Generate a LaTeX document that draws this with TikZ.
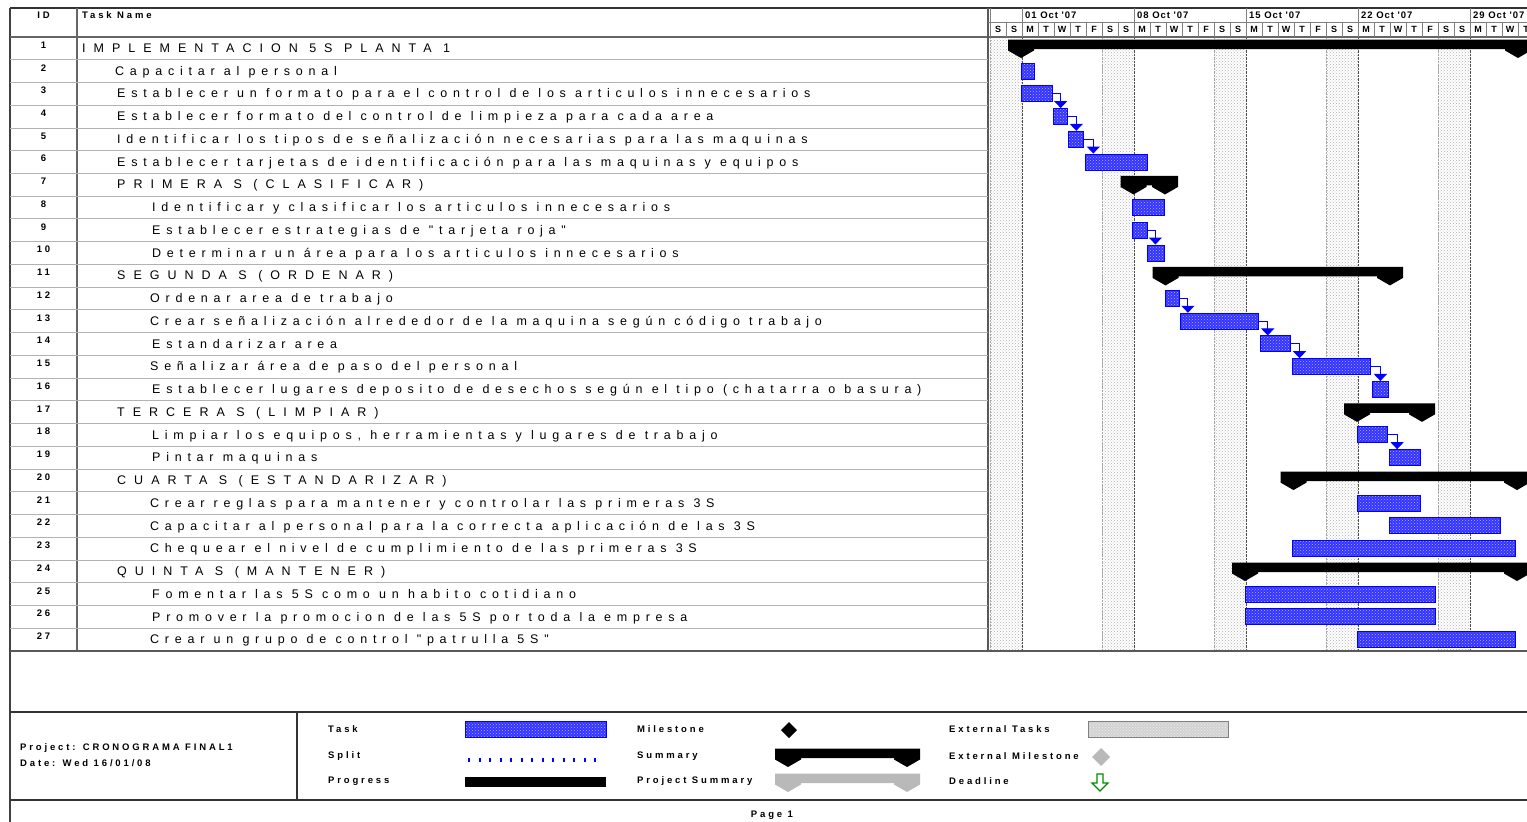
\documentclass[tikz,border=0pt]{standalone}
\usepackage{fontspec}
\setmainfont{Liberation Sans}
\newfontfamily\tkA{Liberation Sans}[LetterSpace=46]
\newfontfamily\tkB{Liberation Sans}[LetterSpace=64]
\newfontfamily\tkC{Liberation Sans}[LetterSpace=30]
\newfontfamily\tkD{Liberation Sans}[LetterSpace=10]
\usetikzlibrary{patterns,arrows.meta}

\newcommand\ganttrow[4]{%
  \pgfmathsetmacro\grt{37+(#1-1)*22.74}%
  \node[idtxt] (id#1) at (43.5,\grt+8) {#1};
  \node[#3] (tn#1) at (#2,\grt+15.5) {#4};
}
\newcommand\gtask[3]{%
  \pgfmathsetmacro\gcy{37+(#1-0.5)*22.74}%
  \node[taskbar, minimum width={(#3)-(#2)}, anchor=west] (t#1) at (#2,\gcy) {};
}
\newcommand\gsumshape[4]{% color, top, start, finish
  \fill[#1] (#3-13,#2+2.5) -- (#4+13,#2+2.5) -- (#4+13,#2+13.5) -- (#4,#2+21)
    -- (#4-13,#2+13.5) -- (#4-13,#2+12) -- (#3+13,#2+12) -- (#3+13,#2+13.5)
    -- (#3,#2+21) -- (#3-13,#2+13.5) -- cycle;
}
\newcommand\gsum[3]{%
  \pgfmathsetmacro\gst{37+(#1-1)*22.74}%
  \gsumshape{black}{\gst}{#2}{#3}%
}

\begin{document}
\begin{tikzpicture}[x=1pt,y=-1pt,
  tasktxt/.style={anchor=base west, inner sep=0, font=\tkA\fontsize{12.5}{14}\selectfont},
  captxt/.style={anchor=base west, inner sep=0, font=\tkB\fontsize{12.5}{14}\selectfont},
  idtxt/.style={inner sep=0, font=\tkC\bfseries\fontsize{9.5}{11}\selectfont},
  hdrtxt/.style={inner sep=0, font=\tkC\bfseries\fontsize{9.5}{11}\selectfont},
  wktxt/.style={inner sep=0, anchor=west, font=\tkD\bfseries\fontsize{9.5}{11}\selectfont},
  daytxt/.style={inner sep=0, font=\tkD\bfseries\fontsize{9}{11}\selectfont},
  lgtxt/.style={anchor=west, inner sep=0, font=\tkC\bfseries\fontsize{9.5}{11}\selectfont},
  taskbar/.style={draw=blue, line width=1pt, preaction={fill=blue!80}, pattern=crosshatch dots,
     pattern color={rgb,255:red,175;green,175;blue,255}, minimum height=16, inner sep=0},
  link/.style={draw=blue, line width=1pt, -{Triangle[width=13pt,length=7pt]}},
  gridline/.style={gray!60, line width=0.9pt}
]
\useasboundingbox (0,0) rectangle (1527,822);
\clip (0,0) rectangle (1527,822);
\fill[white] (0,0) rectangle (1527,822);

% weekend bands
\foreach \a in {990,1102,1214,1326,1438} {
  \fill[pattern=crosshatch dots, pattern color=gray!60] (\a,37) rectangle (\a+32,651);
  \draw[densely dotted, gray!70] (\a,37) -- (\a,651);
  \draw[densely dotted, black!70] (\a+32,37) -- (\a+32,651);
}

% frame and grid
\draw[line width=1.4pt, black!80] (10,8) -- (1527,8);
\draw[line width=1.8pt, black!75] (10,8) -- (10,822);
\draw[line width=1.1pt, gray!80!black] (10,37) -- (1527,37);
\draw[line width=1.1pt, gray!80!black] (77,8) -- (77,651);
\draw[line width=1.6pt, gray!70!black] (988,8) -- (988,651);
\draw[gray] (988,22) -- (1527,22);
\foreach \a in {990,1022,1134,1246,1358,1470} \draw[gray] (\a,8) -- (\a,22);
\foreach \k in {0,...,33} \draw[gray] (990+16*\k,22) -- (990+16*\k,37);
\foreach \i in {1,...,26} \draw[gridline] (10,37+\i*22.74) -- (988,37+\i*22.74);
\draw[line width=1.3pt, gray!70!black] (10,651) -- (1527,651);

% header text
\node[hdrtxt] (hid) at (43.5,15) {ID};
\node[hdrtxt, anchor=west] (hname) at (82,15) {Task Name};
\foreach \a/\w [count=\c] in {1022/01 Oct '07,1134/08 Oct '07,1246/15 Oct '07,1358/22 Oct '07,1470/29 Oct '07}
  \node[wktxt] (wk\c) at (\a+3,15) {\w};
\foreach \L [count=\c from 0] in {S,S,M,T,W,T,F,S,S,M,T,W,T,F,S,S,M,T,W,T,F,S,S,M,T,W,T,F,S,S,M,T,W,T}
  \node[daytxt] (day\c) at (990+16*\c+8,29.5) {\L};

% rows
\ganttrow{1}{82}{captxt}{IMPLEMENTACION 5S PLANTA 1}
\ganttrow{2}{115}{tasktxt}{Capacitar al personal}
\ganttrow{3}{117}{tasktxt}{Establecer un formato para el control de los articulos innecesarios}
\ganttrow{4}{117}{tasktxt}{Establecer formato del control de limpieza para cada area}
\ganttrow{5}{117}{tasktxt}{Identificar los tipos de señalización necesarias para las maquinas}
\ganttrow{6}{117}{tasktxt}{Establecer tarjetas de identificación para las maquinas y equipos}
\ganttrow{7}{117}{captxt}{PRIMERA S (CLASIFICAR)}
\ganttrow{8}{152}{tasktxt}{Identificar y clasificar los articulos innecesarios}
\ganttrow{9}{152}{tasktxt}{Establecer estrategias de "tarjeta roja"}
\ganttrow{10}{152}{tasktxt}{Determinar un área para los articulos innecesarios}
\ganttrow{11}{117}{captxt}{SEGUNDA S (ORDENAR)}
\ganttrow{12}{150}{tasktxt}{Ordenar area de trabajo}
\ganttrow{13}{150}{tasktxt}{Crear señalización alrededor de la maquina según código trabajo}
\ganttrow{14}{152}{tasktxt}{Estandarizar area}
\ganttrow{15}{150}{tasktxt}{Señalizar área de paso del personal}
\ganttrow{16}{152}{tasktxt}{Establecer lugares deposito de desechos según el tipo (chatarra o basura)}
\ganttrow{17}{117}{captxt}{TERCERA S (LIMPIAR)}
\ganttrow{18}{152}{tasktxt}{Limpiar los equipos, herramientas y lugares de trabajo}
\ganttrow{19}{152}{tasktxt}{Pintar maquinas}
\ganttrow{20}{117}{captxt}{CUARTA S (ESTANDARIZAR)}
\ganttrow{21}{150}{tasktxt}{Crear reglas para mantener y controlar las primeras 3S}
\ganttrow{22}{150}{tasktxt}{Capacitar al personal para la correcta aplicación de las 3S}
\ganttrow{23}{150}{tasktxt}{Chequear el nivel de cumplimiento de las primeras 3S}
\ganttrow{24}{117}{captxt}{QUINTA S (MANTENER)}
\ganttrow{25}{152}{tasktxt}{Fomentar las 5S como un habito cotidiano}
\ganttrow{26}{152}{tasktxt}{Promover la promocion de las 5S por toda la empresa}
\ganttrow{27}{150}{tasktxt}{Crear un grupo de control "patrulla 5S"}

% summary bars
\gsum{1}{1021}{1518}
\gsum{7}{1133.5}{1165}
\gsum{11}{1165.5}{1390}
\gsum{17}{1357}{1422}
\gsum{20}{1293.5}{1517}
\gsum{24}{1245}{1517}

% task bars
\gtask{2}{1021}{1034.3}
\gtask{3}{1021}{1051.7}
\gtask{4}{1052.7}{1067.3}
\gtask{5}{1068.3}{1083.3}
\gtask{6}{1085.3}{1146.7}
\gtask{8}{1132.4}{1164.2}
\gtask{9}{1132.4}{1146.7}
\gtask{10}{1147.4}{1164.2}
\gtask{12}{1164.9}{1178.8}
\gtask{13}{1179.9}{1258}
\gtask{14}{1259.7}{1290.4}
\gtask{15}{1291.5}{1370}
\gtask{16}{1372.4}{1388}
\gtask{18}{1356.7}{1387.4}
\gtask{19}{1389.1}{1420.2}
\gtask{21}{1356.7}{1420.2}
\gtask{22}{1389.1}{1499.7}
\gtask{23}{1291.5}{1514.7}
\gtask{25}{1245}{1435.2}
\gtask{26}{1245}{1435.2}
\gtask{27}{1356.7}{1514.7}

% links
\foreach \a/\b in {3/4,4/5,5/6,9/10,12/13,13/14,14/15,15/16,18/19}
  \draw[link] (t\a.east) -| ([xshift=8pt]t\b.north west);

% legend
\draw[line width=1.3pt, black!80] (10,712) -- (1527,712);
\draw[line width=1.3pt, black!80] (10,800) -- (1527,800);
\draw[line width=1.3pt, black!80] (297,712) -- (297,800);
\node[lgtxt] (lproj) at (20,748) {Project: CRONOGRAMA FINAL1};
\node[lgtxt] (ldate) at (20,763) {Date: Wed 16/01/08};
\node[lgtxt] (l1) at (328,729) {Task};
\node[lgtxt] (l2) at (328,756) {Split};
\node[lgtxt] (l3) at (328,781) {Progress};
\node[lgtxt] (l4) at (637,729) {Milestone};
\node[lgtxt] (l5) at (637,756) {Summary};
\node[lgtxt] (l6) at (637,781) {Project Summary};
\node[lgtxt] (l7) at (949,729) {External Tasks};
\node[lgtxt] (l8) at (949,756) {External Milestone};
\node[lgtxt] (l9) at (949,781) {Deadline};
\node[taskbar, minimum width=141, anchor=west] (lgtask) at (465,729) {};
\draw[blue, line width=4pt, dash pattern=on 2pt off 8.5pt] (468,760) -- (603,760);
\fill[black] (465,777) rectangle (606,787);
\fill[black] (789,722) -- (797,730) -- (789,738) -- (781,730) -- cycle;
\gsumshape{black}{746}{788}{907}
\gsumshape{gray!55}{771}{788}{907}
\node[draw=gray, line width=1pt, preaction={fill=gray!35}, pattern=crosshatch dots, pattern color=gray!15,
  minimum width=140, minimum height=16, inner sep=0, anchor=west] (lgext) at (1088,729) {};
\fill[gray!55] (1101,748) -- (1110,757) -- (1101,766) -- (1092,757) -- cycle;
\draw[green!55!black, line width=1.2pt, fill=white] (1097,774) -- (1103,774) -- (1103,783) -- (1108,783)
  -- (1100,791) -- (1092,783) -- (1097,783) -- cycle;
\node[lgtxt, anchor=center] (pg) at (772,815) {Page 1};
\end{tikzpicture}
\end{document}
